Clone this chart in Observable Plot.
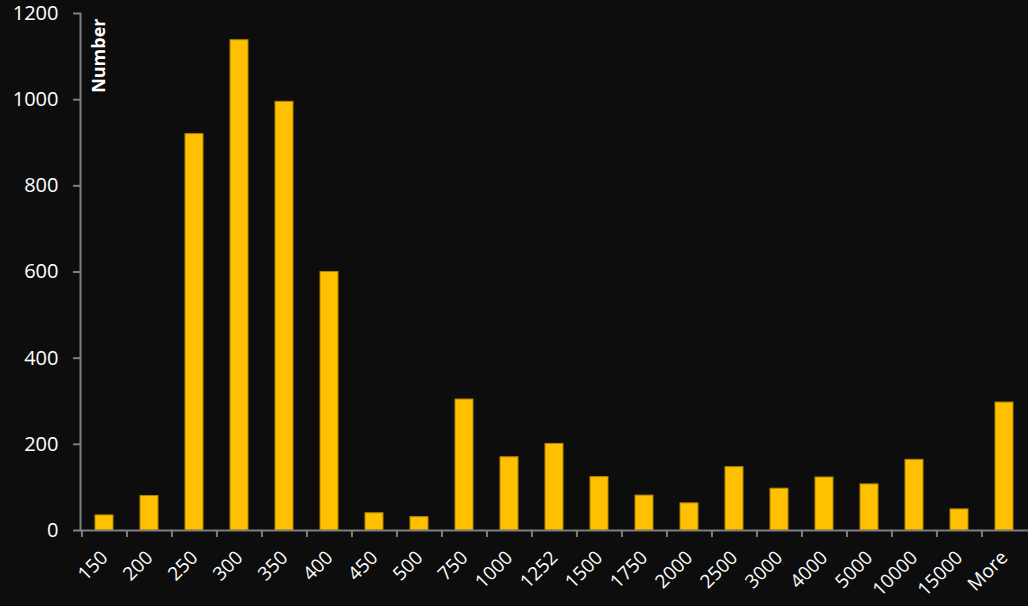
<!DOCTYPE html>
<html>
<head>
<meta charset="utf-8">
<script src="https://cdn.jsdelivr.net/npm/d3@7"></script>
<script src="https://cdn.jsdelivr.net/npm/@observablehq/plot@0.6"></script>
<style>
  html, body { margin: 0; padding: 0; background: #0d0d0d; }
  #chart { width: 1028px; height: 606px; overflow: hidden; }
</style>
</head>
<body>
<div id="chart"></div>
<script>
const categories = ["150","200","250","300","350","400","450","500","750","1000","1252","1500","1750","2000","2500","3000","4000","5000","10000","15000","More"];
const counts = [35, 80, 920, 1138, 995, 600, 40, 31, 304, 170, 201, 124, 81, 63, 147, 97, 123, 107, 164, 49, 297];
const yTicks = [0, 200, 400, 600, 800, 1000, 1200];
const yLabel = "Number";

const data = categories.map((c, i) => ({bin: c, count: counts[i]}));

const W = 1028, H = 606;
const mLeft = 80, mRight = 0, mTop = 13, mBottom = 76;
const bw = (W - mLeft - mRight) / categories.length;
const axisGray = "#7f7f7f";
const font = "'Open Sans', 'Liberation Sans', sans-serif";

const chart = Plot.plot({
  width: W,
  height: H,
  marginLeft: mLeft,
  marginRight: mRight,
  marginTop: mTop,
  marginBottom: mBottom,
  style: {background: "#0d0d0d", color: "#ffffff", fontFamily: font, fontSize: "20px"},
  x: {type: "band", domain: categories, paddingInner: 0.6, paddingOuter: 0.3, align: 0.5},
  y: {domain: [0, 1200]},
  marks: [
    Plot.barY(data, {x: "bin", y: "count", fill: "#ffc000", stroke: "#b38600", strokeWidth: 1}),
    Plot.frame({anchor: "left", stroke: axisGray, strokeWidth: 2}),
    Plot.ruleY([0], {stroke: axisGray, strokeWidth: 2}),
    Plot.axisY({ticks: yTicks, tickFormat: d3.format("d"), tickSize: 7, tickPadding: 15, stroke: axisGray, strokeWidth: 2, label: null, fill: "#ffffff", fontSize: 20}),
    Plot.axisX({tickSize: 7, tickFormat: () => "", dx: -bw / 2, stroke: axisGray, strokeWidth: 2, label: null}),
    Plot.axisX({tickSize: 0, tickRotate: -45, tickPadding: 24, label: null, fill: "#ffffff", fontSize: 19, dx: 0}),
    Plot.text([yLabel], {frameAnchor: "top-left", text: d => d, rotate: -90, textAnchor: "end", dx: 12, dy: 5, fill: "#ffffff", fontWeight: "bold", fontSize: 18})
  ]
});
document.getElementById("chart").appendChild(chart);
</script>
</body>
</html>
